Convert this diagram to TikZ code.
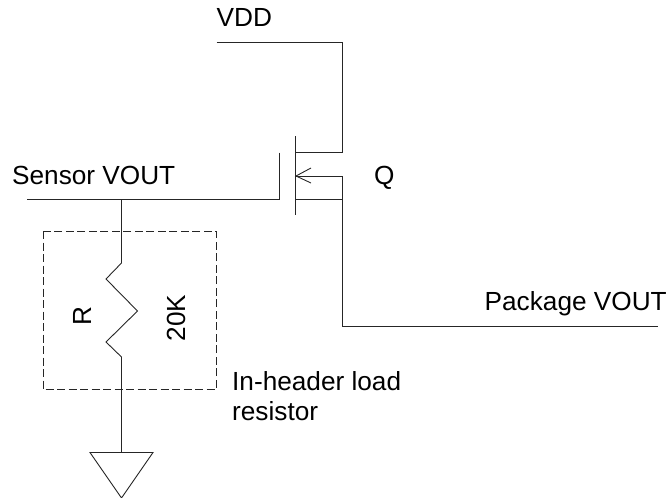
\documentclass[tikz,border=0pt]{standalone}
\usepackage{fontspec}
\setmainfont{Liberation Sans}
\tikzset{
  wire/.style={draw=black!85,line width=0.9pt,line join=miter},
  lbl/.style={inner sep=0pt,font=\fontsize{26.2}{30}\selectfont,text=black},
  lblw/.style={lbl,anchor=base west},
}
\begin{document}
\begin{tikzpicture}[x=1pt,y=-1pt]
\useasboundingbox (0,0) rectangle (667,498);
% named points
\coordinate (vddL) at (216.5,42);
\coordinate (vddR) at (342.5,42);
\coordinate (drainR) at (342.5,152.5);
\coordinate (drainL) at (295,152.5);
\coordinate (chT) at (295,136);
\coordinate (chB) at (295,215);
\coordinate (bodyL) at (296,176);
\coordinate (bodyR) at (342.5,176);
\coordinate (srcL) at (295,199.5);
\coordinate (srcR) at (342.5,199.5);
\coordinate (outC) at (342.5,326.5);
\coordinate (outR) at (658,326.5);
\coordinate (gateT) at (279,152.5);
\coordinate (gateB) at (279,199.5);
\coordinate (inL) at (27,199.5);
\coordinate (junc) at (121.5,199.5);
\coordinate (rT) at (121.5,263);
\coordinate (rB) at (121.5,357);
\coordinate (gndT) at (121.5,452.5);
% text
\node[lblw] (vdd) at (216.5,26.5) {VDD};
\node[lblw] (sensor) at (12,184) {Sensor VOUT};
\node[lblw] (q) at (374,184) {Q};
\node[lblw] (pkg) at (484.5,310.5) {Package VOUT};
\node[lbl,rotate=90,anchor=base] (r) at (91,316) {R};
\node[lbl,rotate=90,anchor=base] (val) at (185,318) {20K};
\node[lblw] (hdr1) at (232,390) {In-header load};
\node[lblw] (hdr2) at (232,420) {resistor};
% wires
\draw[wire] (vddL) -- (vddR) -- (drainR) -- (drainL);
\draw[wire] (chT) -- (chB);
\draw[wire] (bodyL) -- (bodyR);
\draw[wire] (311,168) -- (bodyL) -- (311,183);
\draw[wire] (srcL) -- (srcR);
\draw[wire] (bodyR) -- (outC) -- (outR);
\draw[wire] (gateT) -- (gateB) -- (inL);
\draw[wire] (junc) -- (rT) -- (106,279) -- (137.5,311) -- (106,342) -- (rB) -- (gndT);
\draw[wire] (90,452.5) -- (153,452.5) -- (121.5,498) -- cycle;
\draw[wire,dash pattern=on 8pt off 3.5pt] (43,231) rectangle (216,389.5);
\end{tikzpicture}
\end{document}
